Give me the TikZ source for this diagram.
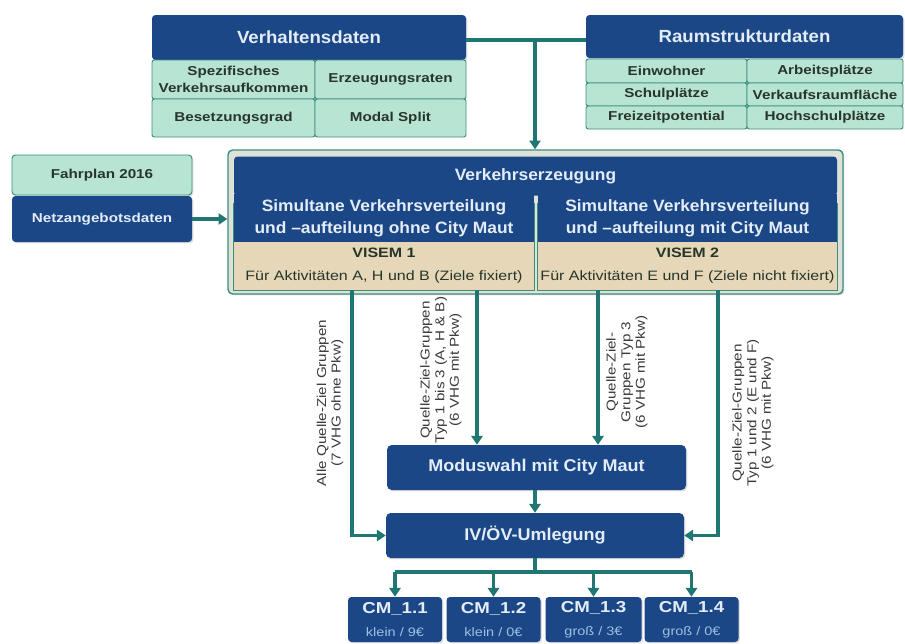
\documentclass[tikz,border=0pt]{standalone}
\usepackage{fontspec}
\setmainfont{Liberation Sans}
\newfontfamily\wide[FakeStretch=1.18]{Liberation Sans}
\newfontfamily\semi[FakeStretch=1.06]{Liberation Sans}
\usetikzlibrary{arrows.meta,shadows}
\definecolor{navy}{HTML}{1B4787}
\definecolor{mint}{HTML}{B8E4D4}
\definecolor{tealb}{HTML}{3B8E7E}
\definecolor{tealc}{HTML}{1F7672}
\definecolor{tanc}{HTML}{E6D7B8}
\definecolor{framec}{HTML}{DEE2D8}
\definecolor{lighttxt}{HTML}{E4EDF7}
\definecolor{darktxt}{HTML}{27352B}
\definecolor{cmtxt}{HTML}{9DBFE3}
\definecolor{labtxt}{HTML}{3A3A3A}
\begin{document}
\begin{tikzpicture}[x=0.03cm,y=-0.03cm,
  sz/.style 2 args={minimum width=#1*0.03cm,minimum height=#2*0.03cm,inner sep=0pt},
  shd/.style={drop shadow={opacity=0.25,shadow xshift=1.2pt,shadow yshift=-1.2pt}},
  hdr/.style={fill=navy,text=lighttxt,font=\semi\bfseries\fontsize{15}{17}\selectfont,rounded corners=3pt},
  cell/.style={fill=mint,draw=tealb,line width=0.8pt,text=darktxt,align=center,
    font=\wide\bfseries\fontsize{11}{14}\selectfont,rounded corners=2pt},
  darkcell/.style={fill=navy,text=lighttxt,align=center,
    font=\wide\bfseries\fontsize{11}{14}\selectfont,rounded corners=3pt},
  panel/.style={fill=navy,text=lighttxt,align=center,font=\semi\bfseries\fontsize{14}{19}\selectfont},
  tanbox/.style={fill=tanc,text=darktxt,align=center,font=\wide\fontsize{11.6}{19.5}\selectfont},
  pframe/.style={draw=tealb,line width=1pt},
  outerbox/.style={fill=framec,draw=tealb,line width=1.2pt,rounded corners=4pt},
  proc/.style={fill=navy,text=lighttxt,font=\semi\bfseries\fontsize{14.5}{17}\selectfont,rounded corners=4pt},
  cmbox/.style={fill=navy,text=cmtxt,align=center,font=\wide\fontsize{10.5}{20}\selectfont,rounded corners=3pt},
  ln/.style={draw=tealc,line width=2.6pt},
  arr/.style={ln,-{Triangle[width=9.5pt,length=7.5pt]}},
  lab/.style={rotate=90,align=center,text=labtxt,font=\wide\fontsize{11}{12.5}\selectfont}
]
\useasboundingbox (0,0) rectangle (905,643);

% Verhaltensdaten
\node[hdr,shd,sz={314}{45}] (vh) at (309,37.5) {Verhaltensdaten};
\node[cell,sz={163}{39}] (c11) at (233.5,79.5) {Spezifisches\\Verkehrsaufkommen};
\node[cell,sz={151}{39}] (c12) at (390.5,79.5) {Erzeugungsraten};
\node[cell,sz={163}{38}] (c21) at (233.5,118) {Besetzungsgrad};
\node[cell,sz={151}{38}] (c22) at (390.5,118) {Modal Split};

% Raumstrukturdaten
\node[hdr,shd,sz={317}{43}] (rs) at (744.5,36.5) {Raumstrukturdaten};
\node[cell,sz={161}{24}] (r11) at (666.5,71) {Einwohner};
\node[cell,sz={156}{24}] (r12) at (825,71) {Arbeitsplätze};
\node[cell,sz={161}{23}] (r21) at (666.5,94.5) {Schulplätze};
\node[cell,sz={156}{23}] (r22) at (825,94.5) {Verkaufsraumfläche};
\node[cell,sz={161}{23}] (r31) at (666.5,117.5) {Freizeitpotential};
\node[cell,sz={156}{23}] (r32) at (825,117.5) {Hochschulplätze};

% Fahrplan / Netz
\node[cell,shd,sz={180}{40},rounded corners=3pt] (fp) at (102,175) {Fahrplan 2016};
\node[darkcell,shd,sz={180}{46}] (nz) at (102,219) {Netzangebotsdaten};

% Verkehrserzeugung frame
\node[outerbox,shd,sz={615}{144}] (outer) at (535.5,222) {};
\node[hdr,sz={603}{39},font=\semi\bfseries\fontsize{14}{17}\selectfont] (vze) at (535.5,176) {Verkehrserzeugung};
\node[panel,sz={300}{48}] (lpt) at (384,218) {Simultane Verkehrsverteilung\\und –aufteilung ohne City Maut};
\node[tanbox,sz={300}{48}] (lpb) at (384,266) {\bfseries VISEM 1\\Für Aktivitäten A, H und B (Ziele fixiert)};
\node[sz={300}{96}] (lpf) at (384,242) {};
\node[panel,sz={299}{48}] (rpt) at (687.5,218) {Simultane Verkehrsverteilung\\und –aufteilung mit City Maut};
\node[tanbox,sz={299}{48}] (rpb) at (687.5,266) {\bfseries VISEM 2\\Für Aktivitäten E und F (Ziele nicht fixiert)};
\node[sz={299}{96}] (rpf) at (687.5,242) {};
\draw[pframe] ([yshift=-8pt]lpf.north west) -- (lpf.south west) -- (lpf.south east) -- ([yshift=-8pt]lpf.north east);
\draw[pframe] ([yshift=-8pt]rpf.north west) -- (rpf.south west) -- (rpf.south east) -- ([yshift=-8pt]rpf.north east);

% processing boxes
\node[proc,shd,sz={299}{45}] (mw) at (536.5,467.5) {Moduswahl mit City Maut};
\node[proc,shd,sz={298}{45}] (iv) at (535,535.5) {IV/ÖV-Umlegung};

\node[cmbox,shd,sz={94}{45}] (cm1) at (395,619.5) {{\bfseries\color{lighttxt}\fontsize{13.5}{20}\selectfont CM\_1.1}\\klein / 9€};
\node[cmbox,shd,sz={94}{45}] (cm2) at (493.5,619.5) {{\bfseries\color{lighttxt}\fontsize{13.5}{20}\selectfont CM\_1.2}\\klein / 0€};
\node[cmbox,shd,sz={96}{45}] (cm3) at (593.5,619.5) {{\bfseries\color{lighttxt}\fontsize{13.5}{20}\selectfont CM\_1.3}\\groß / 3€};
\node[cmbox,shd,sz={94}{45}] (cm4) at (691.5,619.5) {{\bfseries\color{lighttxt}\fontsize{13.5}{20}\selectfont CM\_1.4}\\groß / 0€};

% labels
\node[lab] (la1) at (330,403) {Alle Quelle-Ziel Gruppen\\(7 VHG ohne Pkw)};
\node[lab] (la2) at (441,370) {Quelle-Ziel-Gruppen\\Typ 1 bis 3 (A, H \& B)\\(6 VHG mit Pkw)};
\node[lab] (la3) at (627,372) {Quelle-Ziel-\\Gruppen Typ 3\\(6 VHG mit Pkw)};
\node[lab] (la4) at (753,413) {Quelle-Ziel-Gruppen\\Typ 1 und 2 (E und F)\\(6 VHG mit Pkw)};

% connectors
\coordinate (j) at (535,40);
\draw[ln] (vh.east |- j) -- (rs.west |- j);
\draw[arr] (j) -- (j |- outer.north);
\draw[arr] (nz.east) -- (nz.east -| outer.west);

\coordinate (x1) at (352,0);
\coordinate (x2) at (477,0);
\coordinate (x3) at (598,0);
\coordinate (x4) at (718,0);
\draw[arr] (x1 |- lpf.south) |- (iv.west);
\draw[arr] (x2 |- lpf.south) -- (x2 |- mw.north);
\draw[arr] (x3 |- rpf.south) -- (x3 |- mw.north);
\draw[arr] (x4 |- rpf.south) |- (iv.east);
\draw[arr] (mw.south -| iv.north) -- (iv.north);

\coordinate (bus) at (540,572);
\draw[ln] (iv.south) -- (iv.south |- bus);
\draw[ln] (cm1.north |- bus) -- (cm4.north |- bus);
\foreach \i in {1,...,4} \draw[arr] (cm\i.north |- bus) -- (cm\i.north);
\end{tikzpicture}
\end{document}
